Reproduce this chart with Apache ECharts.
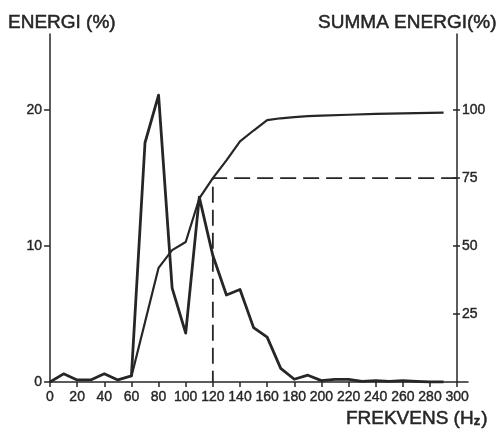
<!DOCTYPE html>
<html>
<head>
<meta charset="utf-8">
<script src="https://cdn.jsdelivr.net/npm/echarts@6/dist/echarts.min.js"></script>
<style>
  html, body { margin: 0; padding: 0; background: #ffffff; }
  #chart { width: 499px; height: 433px; }
</style>
</head>
<body>
<div id="chart"></div>
<script>
// Frequency bins (Hz) and energy share per bin (%)
const freqs = [0, 10, 20, 30, 40, 50, 60, 70, 80, 90, 100, 110, 120, 130, 140,
               150, 160, 170, 180, 190, 200, 210, 220, 230, 240, 250, 260, 270, 280, 290];
const energy = [0, 0.6, 0.15, 0.15, 0.6, 0.15, 0.45, 17.6, 21.1, 6.9, 3.6, 13.6, 9.3, 6.4, 6.8,
                4.0, 3.3, 1.0, 0.2, 0.5, 0.1, 0.2, 0.2, 0.05, 0.1, 0.05, 0.1, 0.05, 0, 0];

// Cumulative energy (%) from 60 Hz upward
const cumFreqs = [60, 70, 80, 90, 100, 110, 120, 130, 140, 150, 160, 170, 180, 190, 200, 220, 240, 260, 290];
const cumEnergy = [2, 22, 42, 48.5, 51.5, 67.5, 75, 81.5, 88.5, 92.5, 96.3, 97, 97.4, 97.8, 98, 98.3, 98.6, 98.8, 99.1];

// 75 % marker at 120 Hz
const markFreq = 120;
const markLevel = 75;
const freqEnd = 300;

// Tick labels
const xTicks = [0, 20, 40, 60, 80, 100, 120, 140, 160, 180, 200, 220, 240, 260, 280, 300];
const leftTicks = [0, 10, 20];
const rightTicks = [25, 50, 75, 100];

const ink = '#262626';
const font = 'Liberation Sans';

const chart = echarts.init(document.getElementById('chart'), null, { renderer: 'canvas' });

const axisLineStyle = { color: ink, width: 1.5 };
const labelStyle = { color: ink, fontFamily: font, fontSize: 14, textBorderColor: ink, textBorderWidth: 0.4 };
const titleStyle = { color: ink, fontFamily: font, fontSize: 19, fontWeight: 'normal', textBorderColor: ink, textBorderWidth: 0.5 };

chart.setOption({
  animation: false,
  backgroundColor: '#ffffff',
  title: [
    { text: 'ENERGI (%)', left: 8, top: 13, padding: 0, textStyle: titleStyle },
    { text: 'SUMMA ENERGI(%)', right: 2, top: 13, padding: 0, textStyle: titleStyle },
    { text: 'FREKVENS (H{s|z})', right: 11, top: 409, padding: 0,
      textStyle: Object.assign({}, titleStyle, {
        rich: { s: { fontFamily: font, fontSize: 13, fontWeight: 'bold', color: ink, padding: [6, 1, 0, 0] } } }) }
  ],
  grid: { left: 50, right: 31, top: 34, bottom: 51 },
  xAxis: {
    type: 'value', min: 0, max: 308, interval: 20,
    axisLine: { lineStyle: axisLineStyle },
    axisTick: { length: 5, lineStyle: axisLineStyle, customValues: xTicks },
    axisLabel: Object.assign({ margin: 8, customValues: xTicks }, labelStyle),
    splitLine: { show: false }
  },
  yAxis: [
    {
      type: 'value', position: 'left', min: 0, max: 25.6, interval: 10,
      axisLine: { show: true, lineStyle: axisLineStyle },
      axisTick: { show: true, length: 6, lineStyle: axisLineStyle, customValues: leftTicks },
      axisLabel: Object.assign({ margin: 8, customValues: leftTicks }, labelStyle),
      splitLine: { show: false }
    },
    {
      type: 'value', position: 'right', offset: -11, min: 0, max: 128, interval: 25,
      axisLine: { show: true, lineStyle: axisLineStyle },
      axisTick: { show: true, length: 3, lineStyle: axisLineStyle, customValues: rightTicks },
      axisLabel: Object.assign({ margin: 5, customValues: rightTicks }, labelStyle),
      splitLine: { show: false }
    },
    {
      // inner half of the right-hand ticks, so they cross the axis line
      type: 'value', position: 'right', offset: -11, min: 0, max: 128, interval: 25,
      axisLine: { show: false },
      axisTick: { show: true, inside: true, length: 4, lineStyle: axisLineStyle, customValues: rightTicks },
      axisLabel: { show: false },
      splitLine: { show: false }
    }
  ],
  series: [
    {
      name: 'ENERGI', type: 'line', yAxisIndex: 0, symbol: 'none',
      data: freqs.map((f, i) => [f, energy[i]]),
      lineStyle: { color: ink, width: 2.8, join: 'round' }
    },
    {
      name: 'SUMMA ENERGI', type: 'line', yAxisIndex: 1, symbol: 'none',
      data: cumFreqs.map((f, i) => [f, cumEnergy[i]]),
      lineStyle: { color: ink, width: 2.2, join: 'round' }
    },
    {
      name: '75 %', type: 'line', yAxisIndex: 1, symbol: 'none',
      data: [[freqEnd, markLevel], [markFreq, markLevel], [markFreq, 0]],
      lineStyle: { color: ink, width: 1.8, type: [16, 7] }
    }
  ]
});
</script>
</body>
</html>
